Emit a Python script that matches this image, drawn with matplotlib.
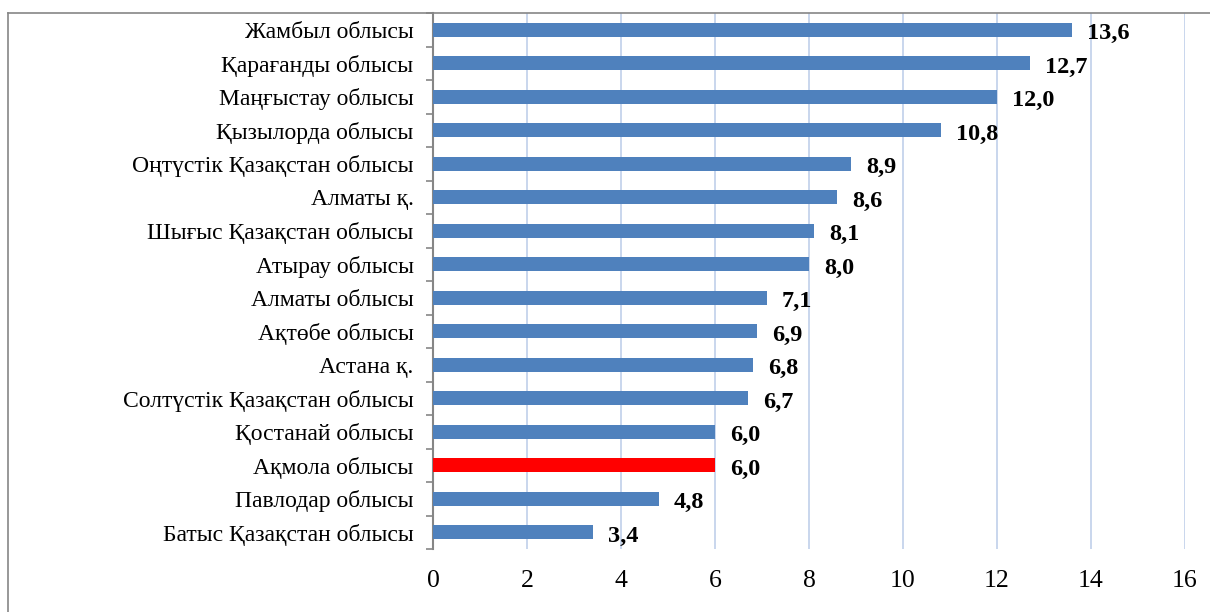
import matplotlib.pyplot as plt
from matplotlib.lines import Line2D

regions = ['Жамбыл облысы', 'Қарағанды облысы', 'Маңғыстау облысы', 'Қызылорда облысы',
           'Оңтүстік Қазақстан облысы', 'Алматы қ.', 'Шығыс Қазақстан облысы', 'Атырау облысы',
           'Алматы облысы', 'Ақтөбе облысы', 'Астана қ.', 'Солтүстік Қазақстан облысы',
           'Қостанай облысы', 'Ақмола облысы', 'Павлодар облысы', 'Батыс Қазақстан облысы']
values = [13.6, 12.7, 12.0, 10.8, 8.9, 8.6, 8.1, 8.0, 7.1, 6.9, 6.8, 6.7, 6.0, 6.0, 4.8, 3.4]
highlight = 'Ақмола облысы'
xticks = [0, 2, 4, 6, 8, 10, 12, 14, 16]

plt.rcParams['font.family'] = ['Liberation Serif', 'DejaVu Serif']

fig = plt.figure(figsize=(12.1, 6.12), dpi=100)
ax = fig.add_axes([433 / 1210, 1 - 549 / 612, (1185 - 433) / 1210, (549 - 13) / 612])

colors = ['#ff0000' if r == highlight else '#4f81bd' for r in regions]
ypos = list(range(len(regions)))
ax.barh(ypos, values, height=0.42, color=colors, zorder=3)
ax.set_ylim(len(regions) - 0.5, -0.5)
ax.set_xlim(0, 16)

# value labels, comma as decimal separator
for y, v in zip(ypos, values):
    ax.annotate(f'{v:.1f}'.replace('.', ','), (v, y), xytext=(11, -3), textcoords='offset points',
                ha='left', va='center', fontsize=17.5, fontweight='bold', zorder=4)

ax.set_yticks(ypos)
ax.set_yticklabels(regions, fontsize=17)
ax.set_yticks([i + 0.5 for i in range(-1, len(regions))], minor=True)
ax.tick_params(axis='y', which='major', length=0, pad=14)
ax.tick_params(axis='y', which='minor', length=5, width=1.2, color='#868686', direction='out')

ax.set_xticks(xticks)
ax.set_xticklabels([str(t) for t in xticks], fontsize=18.5)
ax.tick_params(axis='x', length=0, pad=15)
ax.grid(axis='x', color='#c0d0ea', linewidth=1.2, zorder=0)

for s in ['top', 'right', 'bottom']:
    ax.spines[s].set_visible(False)
ax.spines['left'].set_color('#868686')
ax.spines['left'].set_linewidth(1.5)

# outer chart frame (cut off at right and bottom)
fig.add_artist(Line2D([8 / 1210, 8 / 1210], [0, 1 - 13 / 612], color='#868686', lw=1.2))
fig.add_artist(Line2D([8 / 1210, 1], [1 - 13 / 612, 1 - 13 / 612], color='#868686', lw=1.2))

fig.savefig('out.png', dpi=100)
